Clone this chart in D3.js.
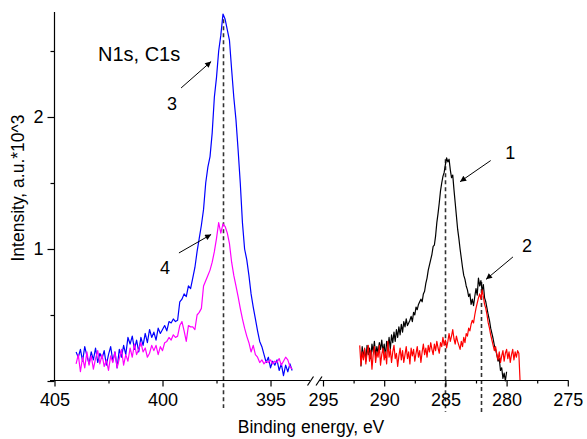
<!DOCTYPE html>
<html>
<head>
<meta charset="utf-8">
<script src="https://cdn.jsdelivr.net/npm/d3@7"></script>
<style>
  body { margin: 0; background: #fff; }
  svg { display: block; }
  text { font-family: "Liberation Sans", Arial, sans-serif; fill: #000; }
</style>
</head>
<body>
<svg id="chart" width="587" height="439"></svg>
<script>
// XPS spectra: N1s region (left) and C1s region (right), intensity in a.u. x 10^3.
// Sampling: 0.1 eV steps, going toward lower binding energy.
const stepEV = 0.1;
const n1sStart = 404.0;      // both N1s curves
const c1sBlackStart = 291.9; // curve 1
const c1sRedStart = 292.0;   // curve 2

// Curve 3 (blue), N1s
const n1sBlue = [
  .22,.18,.24,.15,.26,.19,.13,.22,.16,.25,
  .14,.21,.17,.23,.12,.20,.26,.15,.22,.10,
  .24,.18,.27,.20,.33,.28,.34,.24,.31,.22,
  .33,.27,.36,.29,.39,.33,.37,.31,.40,.36,
  .39,.42,.38,.45,.44,.47,.45,.46,.60,.62,
  .66,.64,.72,.70,.78,.86,.98,1.08,1.18,1.30,
  1.50,1.62,1.70,1.88,2.15,2.30,2.50,2.62,2.78,2.74,
  2.66,2.58,2.36,2.15,1.98,1.75,1.50,1.20,1.00,.92,
  .80,.66,.56,.47,.38,.30,.26,.20,.14,.18,
  .10,.15,.12,.16,.08,.13,.04,.12,.07,.13,
  .08
];

// Curve 4 (magenta), N1s
const n1sMagenta = [
  .13,.20,.07,.18,.10,.22,.12,.19,.09,.17,
  .23,.13,.20,.11,.16,.08,.19,.14,.22,.10,
  .17,.24,.12,.20,.15,.25,.18,.28,.20,.24,
  .29,.22,.25,.18,.21,.27,.23,.27,.20,.26,
  .23,.29,.30,.33,.31,.35,.33,.34,.42,.45,
  .38,.30,.42,.41,.41,.39,.50,.52,.55,.72,
  .76,.80,.84,.90,.98,1.08,1.20,1.12,1.19,1.17,
  1.12,1.04,.90,.80,.72,.64,.55,.47,.40,.34,
  .29,.22,.27,.20,.18,.14,.16,.13,.15,.14,
  .16,.13,.15,.14,.17,.12,.15,.18,.16,.11,
  .09
];

// Curve 1 (black), C1s
const c1sBlack = [
  .11,.26,.18,.24,.15,.27,.20,.25,.17,.28,
  .22,.30,.19,.26,.21,.29,.24,.31,.22,.28,
  .18,.30,.25,.33,.24,.35,.29,.37,.30,.39,
  .33,.41,.35,.43,.37,.45,.41,.47,.42,.44,
  .46,.49,.45,.52,.50,.56,.54,.58,.60,.62,
  .60,.66,.68,.74,.78,.84,.88,.92,.96,1.02,
  1.03,1.10,1.20,1.27,1.35,1.44,1.50,1.55,1.58,1.64,
  1.69,1.66,1.68,1.60,1.54,1.56,1.45,1.35,1.25,1.15,
  1.08,1.00,.93,.86,.80,.77,.72,.69,.64,.66,
  .58,.62,.57,.64,.70,.65,.78,.72,.76,.68,
  .73,.63,.60,.55,.50,.46,.40,.36,.32,.27,
  .24,.20,.15,.17,.08,.10,.02,.06,.00,.07
];

// Curve 2 (red), C1s
const c1sRed = [
  .27,.12,.22,.16,.25,.13,.21,.27,.15,.23,
  .09,.20,.26,.14,.22,.18,.27,.12,.20,.25,
  .16,.22,.13,.30,.18,.24,.14,.22,.27,.17,
  .21,.11,.19,.25,.16,.23,.14,.20,.26,.17,
  .22,.13,.25,.19,.24,.15,.21,.26,.18,.23,
  .14,.22,.28,.20,.25,.18,.27,.22,.29,.24,
  .20,.28,.23,.30,.25,.21,.29,.26,.33,.27,
  .31,.25,.30,.36,.30,.34,.39,.32,.28,.34,
  .30,.27,.24,.30,.26,.33,.29,.36,.34,.40,
  .38,.43,.46,.44,.50,.55,.59,.63,.66,.62,
  .69,.64,.58,.55,.50,.44,.40,.35,.31,.27,
  .23,.26,.20,.16,.22,.14,.19,.23,.15,.21,
  .24,.17,.22,.14,.20,.24,.16,.22,.18,.23,
  .21,.00
];

// Axis ticks
const leftTicks = [405, 400, 395];
const leftMinorTicks = [402.5, 397.5];
const rightTicks = [295, 290, 285, 280, 275];
const rightMinorTicks = [292.5, 287.5, 282.5, 277.5];
const yTicks = [0, 1, 2];
const yTickLabels = ["", "1", "2"];
const yMinorTicks = [0.5, 1.5, 2.5];

// Peak position markers (dashed): energy and the height they start from
const peakMarkers = [
  { panel: "left", energy: 397.2, top: 2.74, drop: 27 },
  { panel: "right", energy: 285.0, top: 1.68, drop: 31 },
  { panel: "right", energy: 282.1, top: 0.75, drop: 31 }
];

// Curve labels with arrows (data coordinates of tail, tip and label)
const curveLabels = [
  { text: "3", panel: "left", label: [399.56, 2.10], tail: [399.14, 2.22], tip: [397.75, 2.42] },
  { text: "4", panel: "left", label: [399.89, 0.86], tail: [399.24, 0.97], tip: [397.75, 1.11] },
  { text: "1", panel: "right", label: [279.70, 1.73], tail: [281.30, 1.67], tip: [283.80, 1.51] },
  { text: "2", panel: "right", label: [278.33, 1.03], tail: [279.48, 0.94], tip: [281.68, 0.77] }
];

const svg = d3.select("#chart");

// Scales: a broken energy axis, two reversed panels sharing the intensity scale
const xLeft = d3.scaleLinear().domain([405, 393.2]).range([54.5, 309.4]);
const xRight = d3.scaleLinear().domain([295, 275]).range([323, 567.8]);
const y = d3.scaleLinear().domain([0, 2.8]).range([381, 11.4]);
const xOf = p => (p === "left" ? xLeft : xRight);

const toPoints = (start, vals) => vals.map((v, i) => ({ e: start - stepEV * i, v }));

// Peak markers
const dashG = svg.append("g");
peakMarkers.forEach(m => {
  const x = Math.round(xOf(m.panel)(m.energy)) + 0.5;
  dashG.append("line")
    .attr("x1", x).attr("x2", x)
    .attr("y1", y(m.top)).attr("y2", y(0) + m.drop)
    .attr("stroke", "#333").attr("stroke-width", 1.6)
    .attr("stroke-dasharray", "4,3");
});

// Spectra
const series = [
  { x: xLeft, start: n1sStart, vals: n1sBlue, color: "#0000ff" },
  { x: xLeft, start: n1sStart, vals: n1sMagenta, color: "#ff00ff" },
  { x: xRight, start: c1sBlackStart, vals: c1sBlack, color: "#000000" },
  { x: xRight, start: c1sRedStart, vals: c1sRed, color: "#ff0000" }
];
series.forEach(s => {
  const line = d3.line().x(d => s.x(d.e)).y(d => y(d.v));
  svg.append("path")
    .datum(toPoints(s.start, s.vals))
    .attr("d", line)
    .attr("fill", "none")
    .attr("stroke", s.color)
    .attr("stroke-width", 1.2)
    .attr("stroke-linejoin", "round");
});

// Bottom axes
const axisY = y(0) - 0.5;
function drawBottom(scale, major, minor, x0, x1) {
  const g = svg.append("g").attr("transform", `translate(0,${axisY})`);
  g.append("line").attr("x1", x0).attr("x2", x1).attr("y1", 0).attr("y2", 0)
    .attr("stroke", "#000").attr("stroke-width", 1.2);
  g.call(d3.axisBottom(scale).tickValues(major).tickSize(6).tickFormat(d3.format("d")))
    .call(a => a.select(".domain").remove());
  g.selectAll(".tick line").attr("stroke-width", 1.2);
  g.selectAll(".tick text").attr("dy", 0).attr("y", 25)
    .attr("font-size", 18).attr("font-family", '"Liberation Sans", Arial, sans-serif');
  g.append("g").call(d3.axisBottom(scale).tickValues(minor).tickSize(3).tickFormat(""))
    .call(a => a.select(".domain").remove())
    .selectAll(".tick line").attr("stroke-width", 1.2);
}
drawBottom(xLeft, leftTicks, leftMinorTicks, 50, 310);
drawBottom(xRight, rightTicks, rightMinorTicks, 319, 568.5);

// Axis break marks
[310.5, 319].forEach(bx => {
  svg.append("line")
    .attr("x1", bx - 3).attr("y1", axisY + 5)
    .attr("x2", bx + 3).attr("y2", axisY - 4)
    .attr("stroke", "#000").attr("stroke-width", 1.2);
});

// Left axis
const yAxisG = svg.append("g").attr("transform", "translate(54.5,0)");
yAxisG.append("line").attr("x1", 0).attr("x2", 0).attr("y1", y(0)).attr("y2", 12)
  .attr("stroke", "#000").attr("stroke-width", 1.2);
yAxisG.call(d3.axisLeft(y).tickValues(yTicks).tickSize(7)
    .tickFormat((d, i) => yTickLabels[i]))
  .call(a => a.select(".domain").remove());
yAxisG.selectAll(".tick line").attr("stroke-width", 1.2);
yAxisG.selectAll(".tick text").attr("x", -11)
  .attr("font-size", 18).attr("font-family", '"Liberation Sans", Arial, sans-serif');
yAxisG.append("g").call(d3.axisLeft(y).tickValues(yMinorTicks).tickSize(4).tickFormat(""))
  .call(a => a.select(".domain").remove())
  .selectAll(".tick line").attr("stroke-width", 1.2);

// Axis titles
svg.append("text")
  .attr("x", 311).attr("y", 433)
  .attr("text-anchor", "middle").attr("font-size", 17.5)
  .text("Binding energy, eV");
svg.append("text")
  .attr("transform", "translate(18,188) rotate(-90)")
  .attr("text-anchor", "middle").attr("dy", "0.35em").attr("font-size", 17.5)
  .text("Intensity, a.u.*10^3");

// Region title
svg.append("text")
  .attr("x", 98).attr("y", 61)
  .attr("font-size", 20)
  .text("N1s, C1s");

// Arrowhead
svg.append("defs").append("marker")
  .attr("id", "head").attr("viewBox", "0 0 10 10")
  .attr("refX", 10).attr("refY", 5)
  .attr("markerWidth", 10).attr("markerHeight", 6)
  .attr("markerUnits", "userSpaceOnUse")
  .attr("orient", "auto")
  .append("path").attr("d", "M0,0 L10,5 L0,10 Z").attr("fill", "#000");

curveLabels.forEach(c => {
  const sx = xOf(c.panel);
  svg.append("line")
    .attr("x1", sx(c.tail[0])).attr("y1", y(c.tail[1]))
    .attr("x2", sx(c.tip[0])).attr("y2", y(c.tip[1]))
    .attr("stroke", "#000").attr("stroke-width", 1)
    .attr("marker-end", "url(#head)");
  svg.append("text")
    .attr("x", sx(c.label[0])).attr("y", y(c.label[1]))
    .attr("text-anchor", "middle").attr("dy", "0.36em")
    .attr("font-size", 18)
    .text(c.text);
});
</script>
</body>
</html>
